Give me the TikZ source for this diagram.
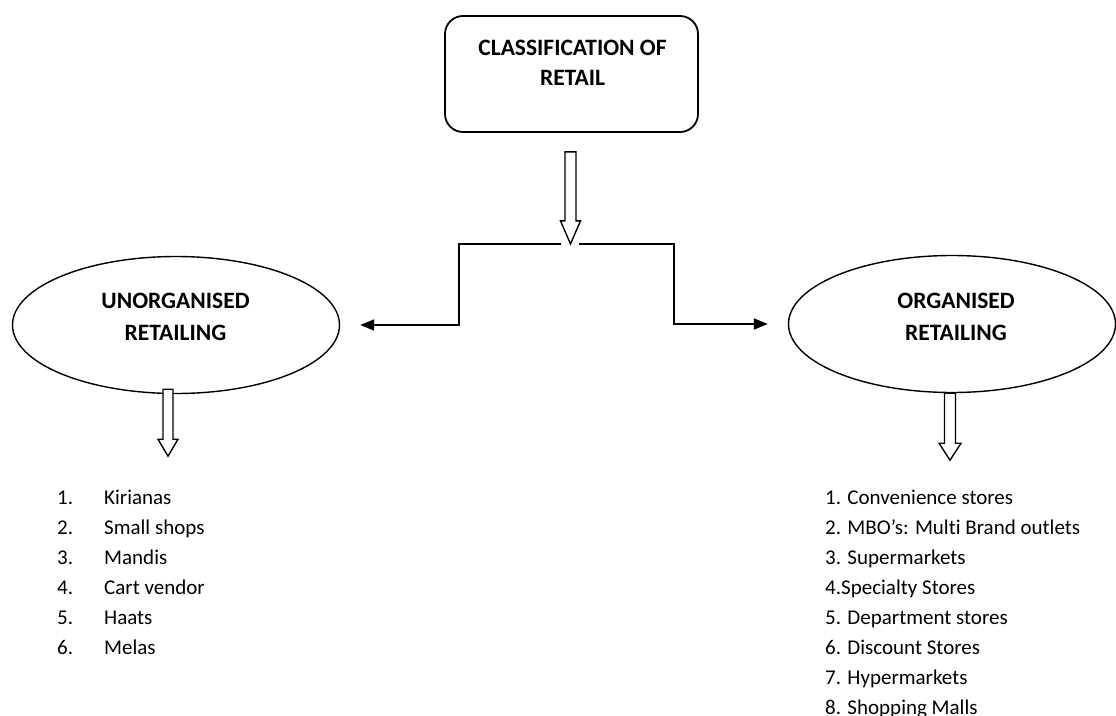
\documentclass[tikz,border=0pt]{standalone}
\usepackage{fontspec}
\setmainfont{Carlito}[Ligatures=CommonOff]
\usetikzlibrary{arrows.meta, shapes.geometric, calc}

\begin{document}
\begin{tikzpicture}[x=1pt, y=-1pt, >={Triangle[length=14pt,width=11pt]},
  headtext/.style={font=\fontsize{23.5}{30}\selectfont\bfseries, align=center, inner sep=0pt},
  ovaltext/.style={font=\fontsize{23.5}{32}\selectfont\bfseries, align=center, inner sep=0pt},
  oval/.style={draw, ellipse, line width=1.4pt, inner sep=0pt, minimum width=327pt, minimum height=137pt},
  hollow/.style={draw=black, fill=white, line width=1.4pt, line join=miter},
  link/.style={->, line width=1.8pt},
  itemtext/.style={font=\fontsize{21}{30}\selectfont, anchor=base west, inner sep=0pt},
  pics/hollowdown/.style args={#1/#2/#3/#4/#5}{code={
    \draw[hollow] (-#4,#1) -- (-#4,#2) -- (-#5,#2) -- (0,#3) -- (#5,#2) -- (#4,#2) -- (#4,#1) -- cycle;}}]
  \useasboundingbox[fill=white] (0,0) rectangle (1116,715);

  % top box
  \node[draw, line width=1.8pt, rounded corners=18pt, minimum width=253pt, minimum height=116pt] (title) at (571.5,74) {};
  \node[headtext] (titletext) at (572.5,63) {CLASSIFICATION OF\\RETAIL};

  % the two kinds
  \node[oval] (unorg) at (176,325) {};
  \node[ovaltext] (unorgtext) at (175.5,316.5) {UNORGANISED\\RETAILING};
  \node[oval] (org) at (952,324) {};
  \node[ovaltext] (orgtext) at (956,317) {ORGANISED\\RETAILING};

  % split below the box
  \coordinate (splitL) at (561,244);
  \coordinate (splitR) at (579,244);
  \draw[link] (splitL) -- (459,244) |- ([xshift=20pt]unorg.east);
  \draw[link] (splitR) -- (674,244) |- ([xshift=-20pt]org.west);

  % hollow arrows
  \pic at ([xshift=-1pt]title.south) {hollowdown=19/88/111/5.5/10};
  \pic at ([xshift=-8pt]unorg.south) {hollowdown=-5/45/62/5/10};
  \pic at ([xshift=-2pt]org.south) {hollowdown=0/50/67/5.5/11};

  % lists
  \foreach \shop [count=\i] in {Kirianas, Small shops, Mandis, Cart vendor, Haats, Melas} {
    \node[itemtext] (unum\i) at (57,{504+30*(\i-1)}) {\i.};
    \node[itemtext] (uitem\i) at (104,{504+30*(\i-1)}) {\shop};
  }
  \foreach \shop [count=\i] in {1. Convenience stores, 2. MBO’s: Multi Brand outlets, 3. Supermarkets,
      4.Specialty Stores, 5. Department stores, 6. Discount Stores, 7. Hypermarkets, 8. Shopping Malls} {
    \node[itemtext] (oitem\i) at (825,{504+30*(\i-1)}) {\shop};
  }
\end{tikzpicture}
\end{document}
